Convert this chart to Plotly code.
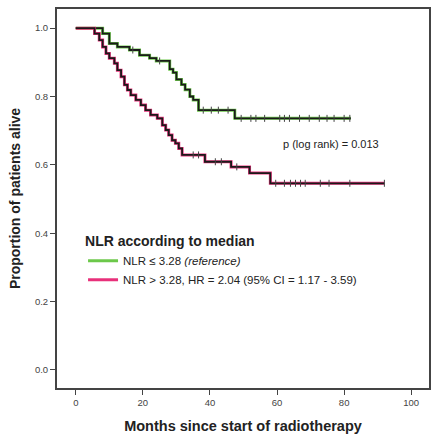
import numpy as np
import plotly.graph_objects as go

# Kaplan-Meier step data (months, survival proportion)
low_times = [0, 8, 10, 12.4, 16, 19, 22, 24, 28, 29, 30, 31.5, 32.6, 34, 35, 36.6, 47.4, 82]
low_surv = [1.0, 0.984, 0.955, 0.945, 0.936, 0.921, 0.912, 0.904, 0.88, 0.87, 0.85, 0.835, 0.82, 0.80, 0.79, 0.76, 0.736, 0.736]
low_censor = [17, 25, 38, 40.4, 42.5, 45.4, 49.3, 52.2, 53.7, 56.3, 60.8, 62.2, 63.7, 66.7, 69.6, 72.6, 74.9, 77, 80, 81.7]

high_times = [0, 5.6, 7, 8, 9, 10, 11.5, 12.4, 13.5, 14.5, 15.4, 16.4, 17.9, 19.4, 20.8, 22.3, 24.3, 25.8,
              26.8, 27.7, 28.7, 29.7, 30.7, 31.7, 38.5, 46.3, 51.8, 58, 92]
high_surv = [1.0, 0.984, 0.965, 0.945, 0.926, 0.912, 0.897, 0.877, 0.858, 0.834, 0.819, 0.804, 0.790, 0.775,
             0.760, 0.746, 0.736, 0.716, 0.702, 0.687, 0.672, 0.663, 0.648, 0.629, 0.609, 0.594, 0.576, 0.546, 0.546]
high_censor = [35, 36.6, 41.6, 43.4, 48, 59.6, 62.2, 64, 65.5, 67, 68.4, 72.9, 75.5, 81.7, 92]

x_ticks = [0, 20, 40, 60, 80, 100]
y_ticks = [0.0, 0.2, 0.4, 0.6, 0.8, 1.0]

legend_title = "NLR according to median"
low_name = "NLR ≤ 3.28 <i>(reference)</i>"
high_name = "NLR > 3.28, HR = 2.04 (95% CI = 1.17 - 3.59)"
p_text = "p (log rank) = 0.013"


def step_at(times, surv, t):
    idx = np.searchsorted(np.array(times), np.array(t), side="right") - 1
    return [surv[i] for i in idx]


fig = go.Figure()

for times, surv, cens, col, name in [
    (low_times, low_surv, low_censor, "#6cc84a", low_name),
    (high_times, high_surv, high_censor, "#e8307a", high_name),
]:
    fig.add_trace(go.Scatter(x=times, y=surv, mode="lines", line=dict(shape="hv", color=col, width=3),
                             name=name, legendgroup=name, showlegend=True, hoverinfo="skip"))
    fig.add_trace(go.Scatter(x=times, y=surv, mode="lines", line=dict(shape="hv", color="#1a1a1a", width=1.8),
                             legendgroup=name, showlegend=False, hoverinfo="skip"))
    fig.add_trace(go.Scatter(x=cens, y=step_at(times, surv, cens), mode="markers",
                             marker=dict(symbol="line-ns", size=5, line=dict(color="#444444", width=1)),
                             legendgroup=name, showlegend=False, hoverinfo="skip"))

fig.add_annotation(x=76, y=0.661, text=p_text, showarrow=False, xref="x", yref="y",
                   font=dict(family="Liberation Sans", size=11, color="#222222"))

fig.update_layout(
    width=432, height=439,
    margin=dict(l=57, r=1, t=9, b=51),
    paper_bgcolor="white", plot_bgcolor="white",
    font=dict(family="Liberation Sans", color="#333333"),
    legend=dict(
        x=0.07, y=0.422, xanchor="left", yanchor="top",
        bgcolor="rgba(0,0,0,0)",
        title=dict(text="<b>" + legend_title + "</b>", font=dict(size=14, color="#222222")),
        font=dict(size=11.5, color="#222222"),
        itemwidth=30, tracegroupgap=0,
    ),
    xaxis=dict(
        range=[-5.6, 105.3], tickvals=x_ticks, ticks="outside", ticklen=5, tickcolor="#444444",
        showline=True, linecolor="#444444", linewidth=2, mirror=True, showgrid=False, zeroline=False,
        tickfont=dict(size=9.5, color="#444444"),
        title=dict(text="<b>Months since start of radiotherapy</b>", font=dict(size=14.5, color="#222222"), standoff=13),
    ),
    yaxis=dict(
        range=[-0.053, 1.056], tickvals=y_ticks, tickformat=".1f", ticks="outside", ticklen=5, tickcolor="#444444",
        showline=True, linecolor="#444444", linewidth=2, mirror=True, showgrid=False, zeroline=False,
        tickfont=dict(size=9.5, color="#444444"),
        title=dict(text="<b>Proportion of patients alive</b>", font=dict(size=14, color="#222222"), standoff=11),
    ),
)

fig.write_html("out.html")
